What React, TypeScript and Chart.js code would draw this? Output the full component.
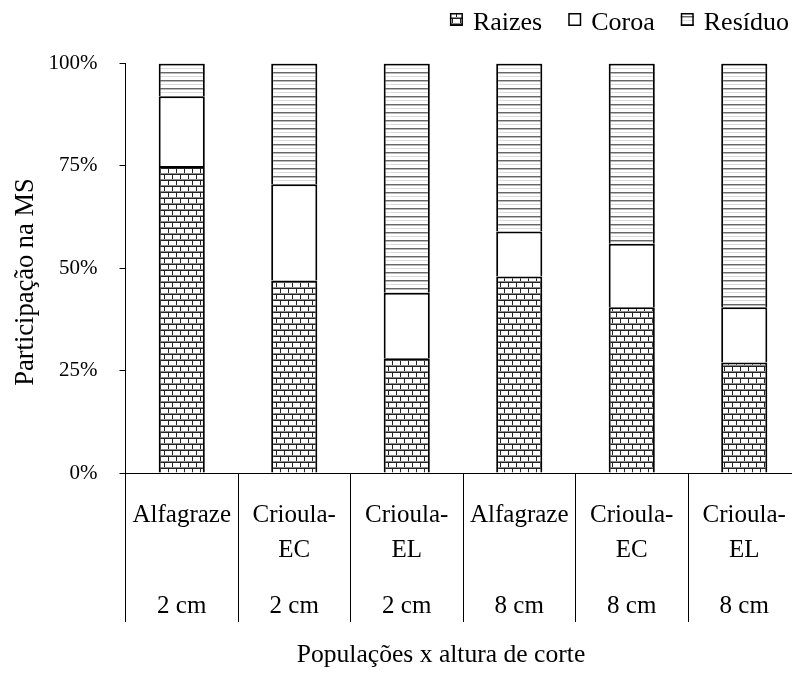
import React, { useEffect, useRef } from "react";
import { Chart, registerables } from "chart.js";

Chart.register(...registerables);

const FONT = "'Liberation Serif', 'Times New Roman', serif";

const labelLine1 = ["Alfagraze", "Crioula-", "Crioula-", "Alfagraze", "Crioula-", "Crioula-"];
const labelLine2 = ["", "EC", "EL", "", "EC", "EL"];
const labelLine3 = ["2 cm", "2 cm", "2 cm", "8 cm", "8 cm", "8 cm"];

const raizes = [75, 47, 28, 48, 40.5, 27];
const coroa = [17, 23.5, 16, 11, 15.5, 13.5];
const residuo = [8, 29.5, 56, 41, 44, 59.5];

const seriesNames = ["Raizes", "Coroa", "Resíduo"];
const yTicks = [0, 25, 50, 75, 100];
const xTitle = "Populações x altura de corte";
const yTitle = "Participação na MS";

function brickPattern(ctx: CanvasRenderingContext2D) {
  const c = document.createElement("canvas");
  c.width = 8;
  c.height = 12;
  const g = c.getContext("2d")!;
  g.fillStyle = "#fff";
  g.fillRect(0, 0, 8, 12);
  g.fillStyle = "#222";
  g.fillRect(0, 0, 8, 1);
  g.fillRect(0, 1, 1, 5);
  g.fillRect(0, 6, 8, 1);
  g.fillRect(4, 7, 1, 5);
  g.fillStyle = "#8a8a8a";
  g.fillRect(0, 5, 8, 1);
  g.fillRect(0, 11, 8, 1);
  return ctx.createPattern(c, "repeat")!;
}

function linePattern(ctx: CanvasRenderingContext2D) {
  const c = document.createElement("canvas");
  c.width = 4;
  c.height = 8;
  const g = c.getContext("2d")!;
  g.fillStyle = "#fff";
  g.fillRect(0, 0, 4, 8);
  g.fillStyle = "#666";
  g.fillRect(0, 0, 4, 1);
  g.fillStyle = "#bbb";
  g.fillRect(0, 1, 4, 1);
  g.fillStyle = "#ddd";
  g.fillRect(0, 4, 4, 1);
  return ctx.createPattern(c, "repeat")!;
}

export default function App() {
  const ref = useRef<HTMLCanvasElement | null>(null);

  useEffect(() => {
    const canvas = ref.current!;
    const ctx0 = canvas.getContext("2d")!;
    const pBrick = brickPattern(ctx0);
    const pLines = linePattern(ctx0);
    const fills: any[] = [pBrick, "#ffffff", pLines];

    const overlay = {
      id: "overlay",
      afterDraw(chart: any) {
        const ctx = chart.ctx as CanvasRenderingContext2D;
        const xs = chart.scales.x;
        ctx.save();
        ctx.fillStyle = "#000";
        ctx.font = `25px ${FONT}`;
        ctx.textAlign = "center";
        ctx.textBaseline = "alphabetic";
        labelLine1.forEach((t, i) => {
          const x = xs.getPixelForValue(i);
          ctx.fillText(t, x, 522);
          if (labelLine2[i]) ctx.fillText(labelLine2[i], x, 557);
          ctx.fillText(labelLine3[i], x, 613);
        });
        ctx.font = `25.6px ${FONT}`;
        ctx.fillText(xTitle, 441, 662);
        ctx.save();
        ctx.font = `26.5px ${FONT}`;
        ctx.translate(33, 282);
        ctx.rotate(-Math.PI / 2);
        ctx.fillText(yTitle, 0, 0);
        ctx.restore();

        // legend (right anchored)
        ctx.font = `26px ${FONT}`;
        ctx.textAlign = "left";
        const box = 13;
        const gapBT = 10;
        const gapItem = 26;
        const widths = seriesNames.map((n) => ctx.measureText(n).width);
        let total = 0;
        widths.forEach((w, i) => {
          total += box + gapBT + w + (i < widths.length - 1 ? gapItem : 0);
        });
        let x = 789 - total;
        seriesNames.forEach((n, i) => {
          ctx.fillStyle = fills[i];
          ctx.fillRect(x, 13, box, box);
          ctx.strokeStyle = "#000";
          ctx.lineWidth = 1.5;
          ctx.strokeRect(x + 0.75, 13.75, box - 1.5, box - 1.5);
          ctx.fillStyle = "#000";
          ctx.fillText(n, x + box + gapBT, 30);
          x += box + gapBT + widths[i] + gapItem;
        });
        ctx.restore();
      },
    };

    const mk = (label: string, data: number[], bg: any) => ({
      label,
      data,
      backgroundColor: bg,
      borderColor: "#000",
      borderWidth: { left: 2, right: 2, top: 2, bottom: 0 },
      borderSkipped: false,
      barPercentage: 0.41,
      categoryPercentage: 1,
    });

    const chart = new Chart(canvas, {
      type: "bar",
      data: {
        labels: labelLine1.map((l, i) => `${l}${labelLine2[i]} ${labelLine3[i]}`),
        datasets: [
          mk(seriesNames[0], raizes, pBrick),
          mk(seriesNames[1], coroa, "#ffffff"),
          mk(seriesNames[2], residuo, pLines),
        ] as any,
      },
      options: {
        animation: false,
        responsive: false,
        layout: { padding: { top: 63.5, right: 7.5, left: 0, bottom: 0 } },
        plugins: { legend: { display: false }, tooltip: { enabled: false } },
        scales: {
          x: {
            stacked: true,
            grid: {
              offset: true,
              drawOnChartArea: false,
              drawTicks: true,
              tickLength: 149,
              color: "#000",
              lineWidth: 1,
            },
            border: { color: "#000", width: 1 },
            ticks: { display: false },
            afterFit: (s: any) => {
              s.height = 202;
            },
          },
          y: {
            stacked: true,
            min: 0,
            max: 100,
            afterBuildTicks: (s: any) => {
              s.ticks = yTicks.map((v) => ({ value: v }));
            },
            ticks: {
              callback: (v: any) => `${v}%`,
              color: "#000",
              font: { family: FONT, size: 21 },
              padding: 22,
            },
            grid: { drawOnChartArea: false, tickLength: 6, color: "#000" },
            border: { color: "#000", width: 1 },
            afterFit: (s: any) => {
              s.width = 125.5;
            },
          },
        },
      } as any,
      plugins: [overlay],
    });
    return () => chart.destroy();
  }, []);

  return (
    <div
      style={{
        position: "fixed",
        left: 0,
        top: 0,
        width: 792,
        height: 675,
        overflow: "hidden",
        background: "#fff",
      }}
    >
      <canvas ref={ref} width={808} height={675} style={{ display: "block", width: 808, height: 675 }} />
    </div>
  );
}
